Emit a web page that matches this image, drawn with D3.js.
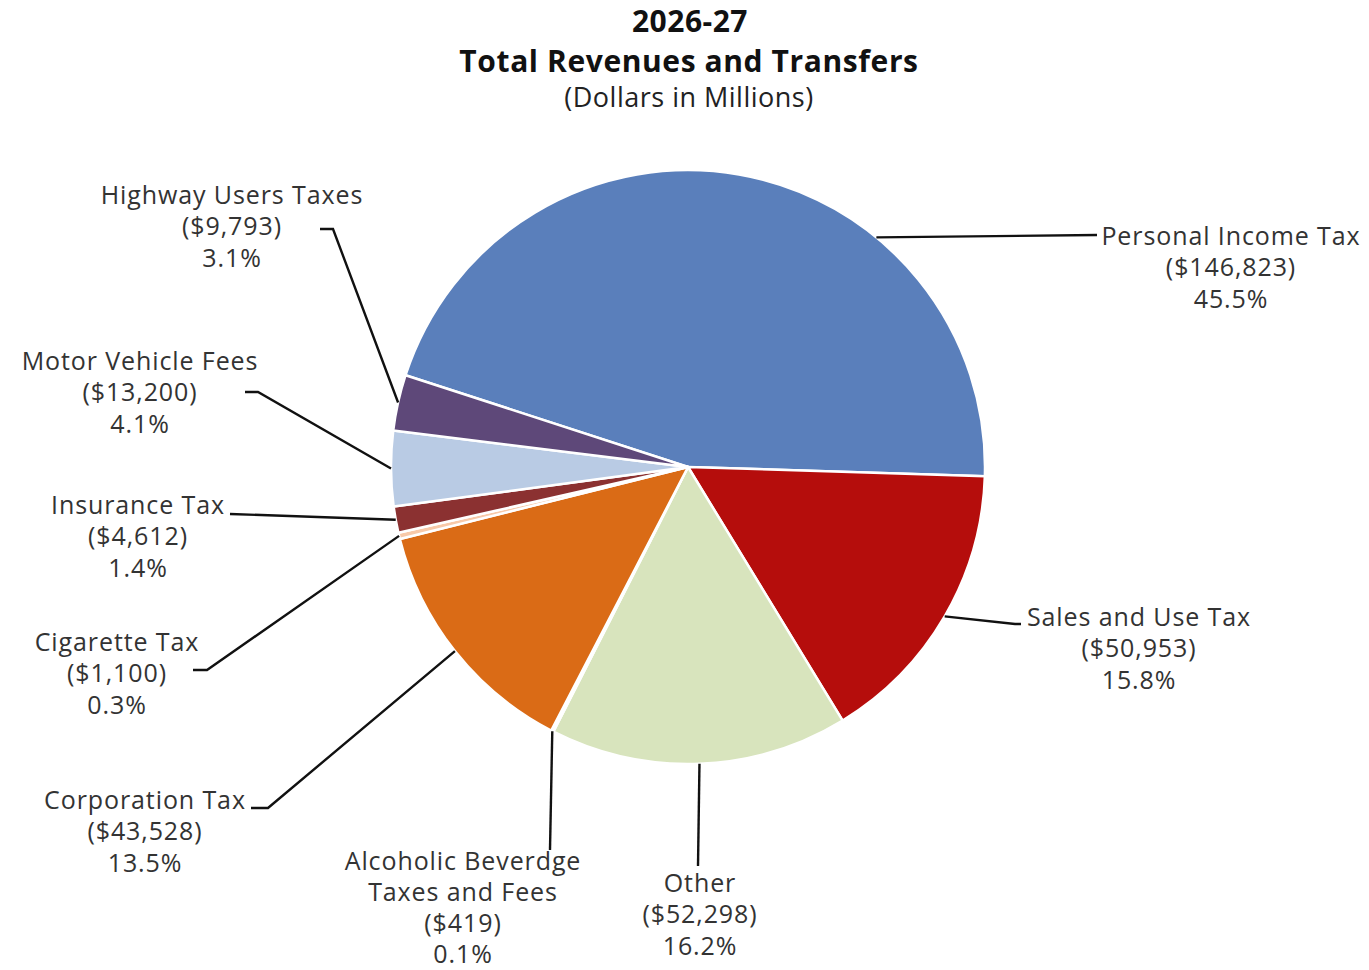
<!DOCTYPE html>
<html>
<head>
<meta charset="utf-8">
<script src="https://cdn.jsdelivr.net/npm/d3@7"></script>
<style>
  body { margin: 0; background: #fff; }
  svg { font-family: "Century Gothic", "URW Gothic", "Open Sans", sans-serif; }
</style>
</head>
<body>
<svg id="chart"></svg>
<script>
const width = 1369, height = 970

// data, clockwise from the top-left slice
const categories = ["Personal Income Tax", "Sales and Use Tax", "Other", "Alcoholic Beverage Taxes and Fees",
    "Corporation Tax", "Cigarette Tax", "Insurance Tax", "Motor Vehicle Fees", "Highway Users Taxes"]
const values = [146823, 50953, 52298, 419, 43528, 1100, 4612, 13200, 9793]
const percents = ["45.5%", "15.8%", "16.2%", "0.1%", "13.5%", "0.3%", "1.4%", "4.1%", "3.1%"]
const labelLines = [
    ["Personal Income Tax"], ["Sales and Use Tax"], ["Other"], ["Alcoholic Beverdge", "Taxes and Fees"],
    ["Corporation Tax"], ["Cigarette Tax"], ["Insurance Tax"], ["Motor Vehicle Fees"], ["Highway Users Taxes"]]
const colors = ["#5A7FBB", "#B50D0C", "#D8E4BD", "#8A7BA8", "#DA6B16", "#F8C9A8", "#8B3131", "#B9CBE4", "#5E4879"]

// label layout: text centre, elbow points of the leader, where on the slice the leader touches (0..1)
const layout = [
    {x: 1231, y: 236, pts: [[1097, 235]], at: 0.68},
    {x: 1139, y: 617, pts: [[1015, 624], [1021, 624]]},
    {x: 700, y: 883, pts: [[698, 866]]},
    {x: 463, y: 861, pts: [[550, 850]]},
    {x: 145, y: 800, pts: [[268, 808], [251, 808]]},
    {x: 117, y: 642, pts: [[207, 670], [193, 670]]},
    {x: 138, y: 505, pts: [[230, 514]]},
    {x: 140, y: 361, pts: [[258, 392], [245, 392]]},
    {x: 232, y: 195, pts: [[333, 229], [320, 229]]}
]

const cx = 688, cy = 467, r = 297
const lineH = 31.5

const svg = d3.select("#chart").attr("width", width).attr("height", height)

// title
const title = svg.append("g").attr("text-anchor", "middle").attr("fill", "#111")
title.append("text").attr("x", 690).attr("y", 32).attr("font-size", 30).attr("font-weight", "bold")
    .attr("letter-spacing", 0.5).text("2026-27")
title.append("text").attr("x", 689).attr("y", 72).attr("font-size", 30).attr("font-weight", "bold")
    .attr("letter-spacing", 0.6).text("Total Revenues and Transfers")
title.append("text").attr("x", 689).attr("y", 107).attr("font-size", 27).attr("fill", "#222")
    .attr("letter-spacing", 0.5).text("(Dollars in Millions)")

const pie = d3.pie().sort(null).value(d => d)
    .startAngle(-72 * Math.PI / 180).endAngle(288 * Math.PI / 180)
const arcs = pie(values)
const arc = d3.arc().innerRadius(0).outerRadius(r)

const g = svg.append("g").attr("transform", `translate(${cx},${cy})`)
g.selectAll("path")
    .data(arcs)
    .enter()
    .append("path")
    .attr("d", arc)
    .attr("fill", (d, i) => colors[i])
    .attr("stroke", "#fff")
    .attr("stroke-width", 2.5)
    .attr("stroke-linejoin", "round")

// leader lines
const fmt = d3.format(",")
const leaders = svg.append("g").attr("fill", "none").attr("stroke", "#111").attr("stroke-width", 2.4)
arcs.forEach((a, i) => {
    let f = layout[i].at == null ? 0.5 : layout[i].at
    let ang = a.startAngle + (a.endAngle - a.startAngle) * f
    let p0 = [cx + r * Math.sin(ang), cy - r * Math.cos(ang)]
    leaders.append("path").attr("d", d3.line()([p0].concat(layout[i].pts)))
})

// labels
const labels = svg.append("g").attr("text-anchor", "middle").attr("fill", "#333")
    .attr("font-size", 25).attr("letter-spacing", 0.9)
categories.forEach((c, i) => {
    let lines = labelLines[i].concat(["($" + fmt(values[i]) + ")", percents[i]])
    let lh = lines.length > 3 ? 31 : lineH
    let t = labels.append("text").attr("x", layout[i].x).attr("y", layout[i].y + 8.5)
    lines.forEach((s, k) => {
        t.append("tspan").attr("x", layout[i].x).attr("dy", k == 0 ? 0 : lh).text(s)
    })
})
</script>
</body>
</html>
